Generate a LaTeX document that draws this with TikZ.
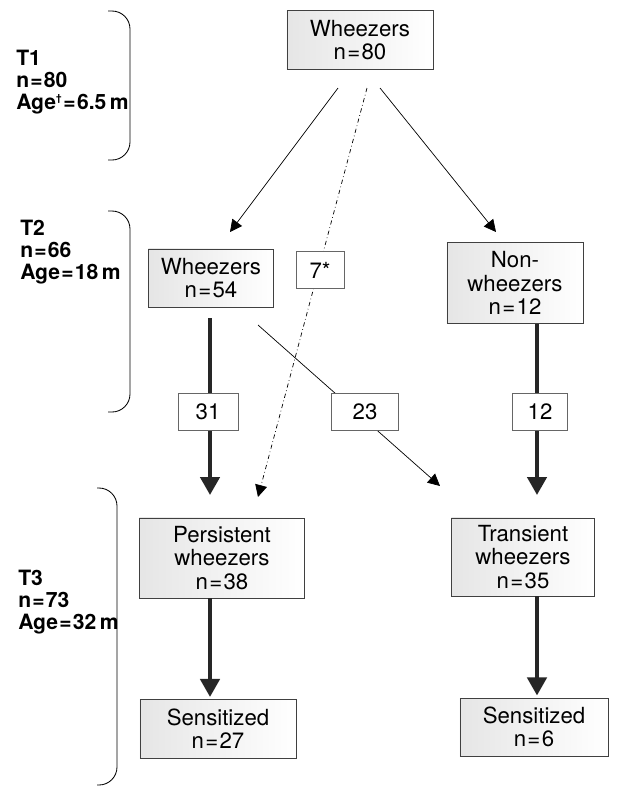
\documentclass[tikz,border=0pt]{standalone}
\usepackage{fontspec}
\setmainfont{TeX Gyre Heros}
\usetikzlibrary{arrows.meta}
\newcommand{\eq}{\kern0.06em=\kern0.06em}
\tikzset{
  grp/.style={draw=black!75, line width=0.6pt, left color=black!10, right color=white,
    align=center, inner sep=0pt, font=\fontsize{15.8}{16.5}\selectfont},
  cnt/.style={draw=black!60, line width=0.5pt, fill=white, inner sep=0pt,
    minimum height=0.925cm, font=\fontsize{15.8}{16.5}\selectfont},
  bigarr/.style={line width=2.8pt, draw=black!85, -{Triangle[width=0.48cm,length=0.45cm]}},
  thinarr/.style={line width=0.5pt, -{Triangle[width=0.3cm,length=0.3cm]}},
  brk/.style={line width=0.6pt, rounded corners=0.45cm},
  lbl/.style={anchor=west, align=left, inner sep=0pt, font=\bfseries\fontsize{15}{15.6}\selectfont}
}
\begin{document}
\begin{tikzpicture}[x=0.025cm, y=-0.025cm]
\useasboundingbox (0,0) rectangle (619,790);

% time points
\node[lbl] (T1) at (16,82) {T1\\n\eq80\\Age\textsuperscript{\scriptsize\textdagger}\eq6.5\,m};
\node[lbl] (T2) at (20,252) {T2\\n\eq66\\Age\eq18\,m};
\node[lbl] (T3) at (18,602) {T3\\n\eq73\\Age\eq32\,m};
\draw[brk] (108,11) -- (130,11) -- (130,160) -- (108,160);
\draw[brk] (108,211) -- (130,211) -- (130,412) -- (108,412);
\draw[brk] (97,488) -- (117,488) -- (117,785) -- (97,785);

% groups
\node[grp, minimum width=3.65cm, minimum height=1.475cm] (W80) at (360,40) {Wheezers\\n\eq80};
\node[grp, minimum width=3.125cm, minimum height=1.45cm] (W54) at (211,278) {Wheezers\\n\eq54};
\node[grp, minimum width=3.4cm, minimum height=2.025cm] (NW12) at (515,283) {Non-\\wheezers\\n\eq12};
\node[grp, minimum width=4.125cm, minimum height=2cm] (PW) at (222,558) {Persistent\\wheezers\\n\eq38};
\node[grp, minimum width=3.575cm, minimum height=1.95cm] (TW) at (523,557) {Transient\\wheezers\\n\eq35};
\node[grp, minimum width=3.9cm, minimum height=1.475cm] (S27) at (218,729) {Sensitized\\n\eq27};
\node[grp, minimum width=3.7cm, minimum height=1.45cm] (S6) at (534,727) {Sensitized\\n\eq6};

% connector ends
\coordinate (a1) at (338,88);
\coordinate (a2) at (230,232);
\coordinate (b1) at (380,88);
\coordinate (b2) at (496,232);
\coordinate (c1) at (367,88);
\coordinate (c2) at (258,497);
\coordinate (d1) at (258,325);
\coordinate (d2) at (440,486);
\coordinate (e1) at (210,318);
\coordinate (e2) at (210,495);
\coordinate (f1) at (537,324);
\coordinate (f2) at (537,495);

\draw[thinarr] (a1) -- (a2);
\draw[thinarr] (b1) -- (b2);
\draw[thinarr, dash dot] (c1) -- (c2);
\draw[thinarr] (d1) -- (d2);
\draw[bigarr] (e1) -- (e2);
\draw[bigarr] (f1) -- (f2);
\draw[bigarr] (PW.south -| e1) -- ([yshift=1.5pt]S27.north -| e1);
\draw[bigarr] (TW.south -| f1) -- ([yshift=1.5pt]S6.north -| f1);

% counts
\node[cnt, minimum width=1.2cm] (N7) at (320,270) {7*};
\node[cnt, minimum width=1.5cm] (N31) at (208,412) {31};
\node[cnt, minimum width=1.675cm] (N23) at (365,412) {23};
\node[cnt, minimum width=1.375cm] (N12) at (540,412) {12};
\end{tikzpicture}
\end{document}
